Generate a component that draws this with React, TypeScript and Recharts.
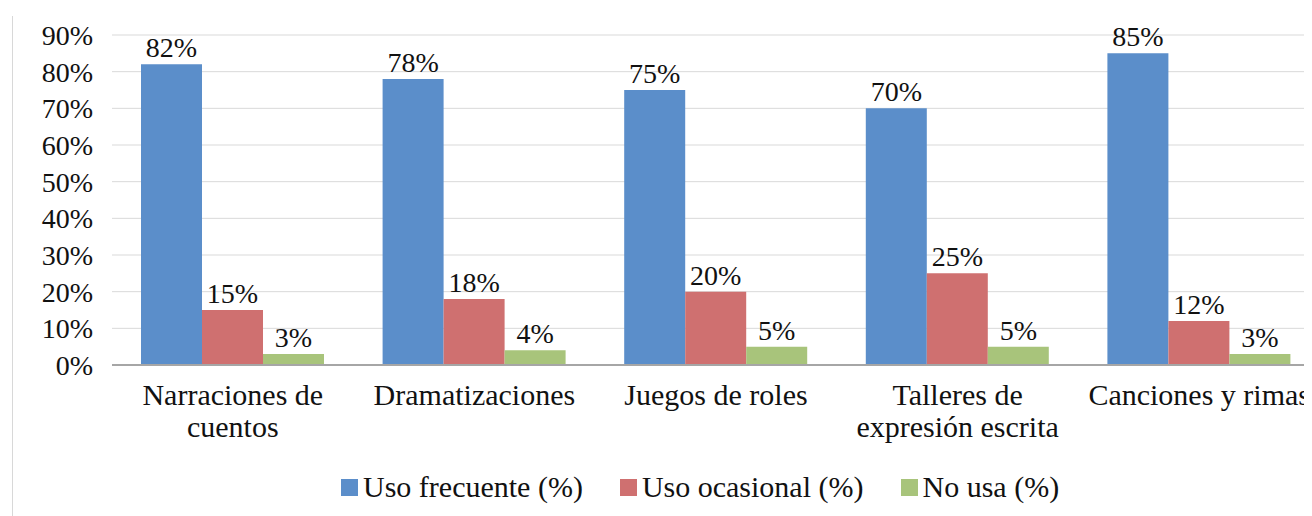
import React from "react";
import { BarChart, Bar, XAxis, YAxis, CartesianGrid, Legend, LabelList } from "recharts";

const categories = [
  ["Narraciones de", "cuentos"],
  ["Dramatizaciones"],
  ["Juegos de roles"],
  ["Talleres de", "expresión escrita"],
  ["Canciones y rimas"],
];
const usoFrecuente = [82, 78, 75, 70, 85];
const usoOcasional = [15, 18, 20, 25, 12];
const noUsa = [3, 4, 5, 5, 3];
const yTicks = [0, 10, 20, 30, 40, 50, 60, 70, 80, 90];

const seriesNames = ["Uso frecuente (%)", "Uso ocasional (%)", "No usa (%)"];
const colors = ["#5B8ECA", "#CF7070", "#A8C47B"];

const data = categories.map((c, i) => ({
  name: c.join(" "),
  f: usoFrecuente[i],
  o: usoOcasional[i],
  n: noUsa[i],
}));

const FONT = "Liberation Serif, DejaVu Serif, serif";

const CatTick = (props: any) => {
  const { x, y, payload, index } = props;
  const lines = categories[index] || [payload.value];
  return (
    <g>
      {lines.map((l: string, k: number) => (
        <text
          key={k}
          x={x}
          y={y + 32 + k * 32}
          textAnchor="middle"
          style={{ fontFamily: FONT, fontSize: 30 }}
          fill="#111"
        >
          {l}
        </text>
      ))}
    </g>
  );
};

const LegendContent = (props: any) => {
  const payload = [...(props.payload || [])].sort(
    (a: any, b: any) => seriesNames.indexOf(a.value) - seriesNames.indexOf(b.value)
  );
  return (
    <div style={{ display: "flex", alignItems: "center", fontFamily: FONT, fontSize: 30, color: "#111", height: 40 }}>
      {payload.map((p: any, i: number) => (
        <div key={i} style={{ display: "flex", alignItems: "center", marginRight: 37 }}>
          <div style={{ width: 17, height: 17, background: p.color, marginRight: 5 }} />
          <span>{p.value}</span>
        </div>
      ))}
    </div>
  );
};

const labelStyle = { fontFamily: FONT, fontSize: 28 };

export default function App() {
  return (
    <div style={{ position: "relative", width: 1304, height: 508, overflow: "hidden", background: "#fff" }}>
      <div style={{ position: "absolute", left: 4, top: 8, bottom: 0, width: 1, background: "#d8d8d8" }} />
      <BarChart
        width={1340}
        height={508}
        data={data}
        margin={{ top: 27, right: 28, bottom: 0, left: 24 }}
        barCategoryGap={29}
        barGap={0}
        style={{ fontFamily: FONT }}
      >
        <CartesianGrid vertical={false} stroke="#d9d9d9" />
        <XAxis
          dataKey="name"
          tick={<CatTick />}
          tickLine={false}
          axisLine={{ stroke: "#a6a6a6", strokeWidth: 2 }}
          height={111}
          interval={0}
        />
        <YAxis
          domain={[0, 90]}
          ticks={yTicks}
          interval={0}
          tickFormatter={(v: number) => `${v}%`}
          axisLine={false}
          tickLine={false}
          tickSize={0}
          tickMargin={19}
          width={80}
          tick={{ style: { fontFamily: FONT, fontSize: 28 }, fill: "#111" }}
        />
        <Legend
          content={<LegendContent />}
          verticalAlign="bottom"
          wrapperStyle={{ left: 333, top: 459, width: "auto", height: 40 }}
        />
        <Bar dataKey="f" name={seriesNames[0]} fill={colors[0]} isAnimationActive={false}>
          <LabelList dataKey="f" position="top" offset={7} formatter={(v: any) => `${v}%`} style={labelStyle} fill="#111" />
        </Bar>
        <Bar dataKey="o" name={seriesNames[1]} fill={colors[1]} isAnimationActive={false}>
          <LabelList dataKey="o" position="top" offset={7} formatter={(v: any) => `${v}%`} style={labelStyle} fill="#111" />
        </Bar>
        <Bar dataKey="n" name={seriesNames[2]} fill={colors[2]} isAnimationActive={false}>
          <LabelList dataKey="n" position="top" offset={7} formatter={(v: any) => `${v}%`} style={labelStyle} fill="#111" />
        </Bar>
      </BarChart>
    </div>
  );
}
